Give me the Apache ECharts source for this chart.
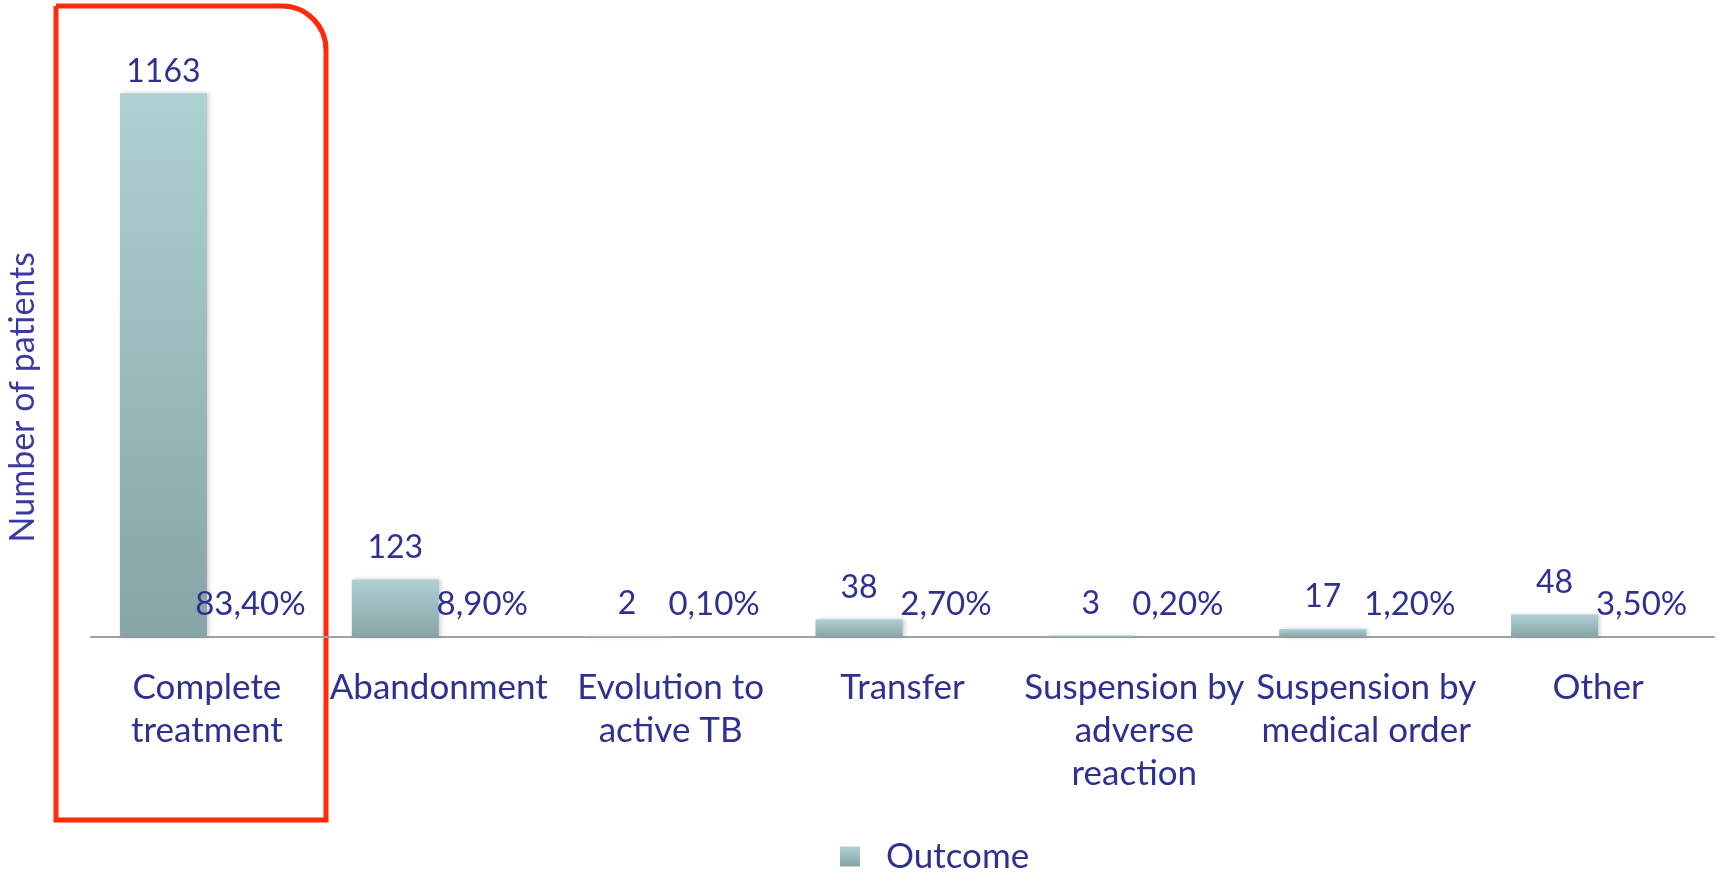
<style>body { margin: 0; }</style>
<div id="chart" style="width: 1717px; height: 873px;"></div>
<script src="https://cdn.jsdelivr.net/npm/echarts@6/dist/echarts.min.js"></script>
<script>
const chart = echarts.init(document.getElementById('chart'));

const categories = [
  'Complete\ntreatment',
  'Abandonment',
  'Evolution to\nactive TB',
  'Transfer',
  'Suspension by\nadverse\nreaction',
  'Suspension by\nmedical order',
  'Other'
];
const patients = [1163, 123, 2, 38, 3, 17, 48];
const percents = [83.4, 8.9, 0.1, 2.7, 0.2, 1.2, 3.5];

const textColor = '#2e3190';
const fontFamily = 'Lato';

// 柱子渐变色：上浅下深
const barColor = new echarts.graphic.LinearGradient(0, 0, 0, 1, [
  { offset: 0, color: '#aed1d4' },
  { offset: 1, color: '#87a4a6' }
]);

const option = {
  animation: false,
  grid: { left: 91, right: 3, top: 76, bottom: 236 },
  legend: {
    data: [{ name: 'Outcome', icon: 'rect' }],
    bottom: -6,
    left: 835,
    itemWidth: 20,
    itemHeight: 20,
    textStyle: {
      color: textColor,
      fontSize: 35,
      fontFamily: fontFamily,
      padding: [0, 0, 0, 21]
    }
  },
  xAxis: {
    type: 'category',
    data: categories,
    axisLine: { lineStyle: { color: '#a0a0a0', width: 2 } },
    axisTick: { show: false },
    axisLabel: {
      color: textColor,
      fontSize: 35,
      fontFamily: fontFamily,
      lineHeight: 43,
      margin: 29,
      interval: 0
    }
  },
  yAxis: {
    type: 'value',
    min: 0,
    max: 1200,
    axisLine: { show: false },
    axisTick: { show: false },
    axisLabel: { show: false },
    splitLine: { show: false }
  },
  series: [
    {
      name: 'Outcome',
      type: 'bar',
      barWidth: 87,
      barGap: '0%',
      itemStyle: {
        color: barColor,
        shadowColor: 'rgba(0,0,0,0.18)',
        shadowBlur: 4,
        shadowOffsetX: 2
      },
      label: {
        show: true,
        position: 'top',
        distance: 16,
        color: textColor,
        fontSize: 32,
        fontFamily: fontFamily
      },
      data: patients.map((v, i) => i === 0 ? { value: v, label: { distance: 6 } } : v)
    },
    {
      name: 'Percent',
      type: 'bar',
      barWidth: 87,
      itemStyle: { color: 'rgba(0,0,0,0)' },
      label: {
        show: true,
        position: 'top',
        distance: 16,
        color: textColor,
        fontSize: 33,
        fontFamily: fontFamily,
        formatter: p => percents[p.dataIndex].toFixed(2).replace('.', ',') + '%'
      },
      data: percents.map(v => v / 100)
    }
  ],
  graphic: [
    {
      type: 'text',
      left: 6,
      top: 252,
      rotation: Math.PI / 2,
      style: {
        text: 'Number of patients',
        fill: '#3a3aa0',
        fontSize: 34,
        fontFamily: fontFamily
      }
    },
    {
      type: 'rect',
      shape: { x: 56, y: 6, width: 270, height: 814, r: [0, 44, 0, 0] },
      style: { fill: 'none', stroke: '#ff2a0a', lineWidth: 5 }
    }
  ]
};

chart.setOption(option);
</script>
